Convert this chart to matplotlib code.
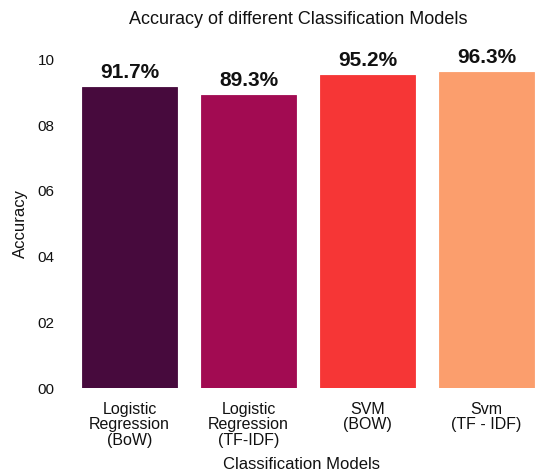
import matplotlib
matplotlib.use("Agg")
import matplotlib.pyplot as plt

plt.rcParams['font.family'] = ['Liberation Sans', 'DejaVu Sans']

# datos del gráfico
modelos = ["Logistic\nRegression\n(BoW)", "Logistic\nRegression\n(TF-IDF)",
           "SVM\n(BOW)", "Svm\n(TF - IDF)"]
precision = [0.917, 0.893, 0.952, 0.963]
etiquetas = ["91.7%", "89.3%", "95.2%", "96.3%"]
colores = ["#470a3d", "#a20b52", "#f63636", "#fb9e6d"]
ticks_y = [0.0, 0.2, 0.4, 0.6, 0.8, 1.0]
ticks_y_txt = ["00", "02", "04", "06", "08", "10"]

W, H = 536, 476
fig = plt.figure(figsize=(W / 100, H / 100), dpi=100)
# ejes en pixeles: izquierda 70, derecha 546 (recortado), abajo 88, arriba 416.5
ax = fig.add_axes([70 / W, 88 / H, 476 / W, 328.5 / H])

x = range(len(modelos))
ax.bar(x, precision, width=0.8, color=colores, edgecolor=colores, linewidth=0.6)
for i, (v, t) in enumerate(zip(precision, etiquetas)):
    ax.text(i, v + 0.015, t, ha='center', va='bottom', fontsize=15,
            fontweight='bold', color='#111111')

ax.set_xlim(-0.5, 3.5)
ax.set_ylim(0, 1.0)
ax.set_xticks(list(x))
ax.set_xticklabels(modelos, fontsize=11.5, linespacing=1.05, color='#111111')
ax.set_yticks(ticks_y)
ax.set_yticklabels(ticks_y_txt, fontsize=11, color='#111111')
ax.tick_params(axis='both', length=0)
ax.tick_params(axis='y', pad=11)
ax.tick_params(axis='x', pad=10)
for s in ax.spines.values():
    s.set_visible(False)

ax.set_ylabel("Accuracy", fontsize=12, color='#111111')
ax.yaxis.set_label_coords((28 - 70) / 476, 0.5)
ax.set_xlabel("Classification Models", fontsize=12, color='#111111')
ax.xaxis.set_label_coords((302 - 70) / 476, -0.21)

fig.text(298 / W, 1 - 20 / H, "Accuracy of different Classification Models",
         ha='center', va='center', fontsize=13, color='#111111')

fig.savefig("out.png", dpi=100)
